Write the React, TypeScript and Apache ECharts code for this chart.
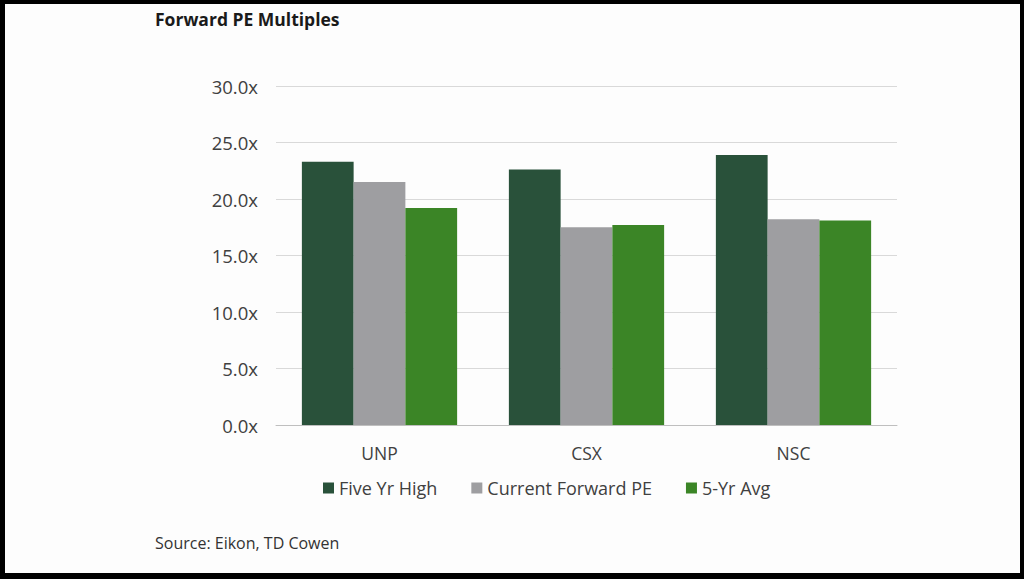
import React, { useEffect, useRef } from "react";
import * as echarts from "echarts";

const categories = ["UNP", "CSX", "NSC"];
const fiveYrHigh = [23.3, 22.6, 23.9];
const currentForwardPE = [21.5, 17.5, 18.2];
const fiveYrAvg = [19.2, 17.7, 18.1];
const seriesNames = ["Five Yr High", "Current Forward PE", "5-Yr Avg"];
const colors = ["#29513a", "#9e9ea1", "#3b8526"];

const FONT = "'Open Sans', 'Noto Sans', sans-serif";

export default function App() {
  const ref = useRef<HTMLDivElement>(null);
  useEffect(() => {
    if (!ref.current) return;
    const chart = echarts.init(ref.current, undefined, { renderer: "svg" });
    const data = [fiveYrHigh, currentForwardPE, fiveYrAvg];
    chart.setOption({
      animation: false,
      backgroundColor: "transparent",
      textStyle: { fontFamily: FONT },
      title: [
        {
          text: "Forward PE Multiples",
          left: 150,
          top: 5,
          textStyle: { fontFamily: FONT, fontSize: 17.5, fontWeight: "bold", color: "#1a1a1a" },
        },
        {
          text: "Source: Eikon, TD Cowen",
          left: 150,
          top: 530,
          textStyle: { fontFamily: FONT, fontSize: 16, fontWeight: "normal", color: "#333333" },
        },
      ],
      legend: {
        left: 318,
        top: 474,
        itemWidth: 11,
        itemHeight: 11,
        itemGap: 34,
        icon: "rect",
        textStyle: { fontFamily: FONT, fontSize: 18, color: "#404040" },
        data: seriesNames,
      },
      grid: { left: 276, right: 127, top: 86, bottom: 154, containLabel: false },
      xAxis: {
        type: "category",
        data: categories,
        axisLine: { show: true, lineStyle: { color: "#bfbfbf", width: 1 } },
        axisTick: { show: false },
        axisLabel: { margin: 19, fontSize: 17.5, color: "#404040", fontFamily: FONT },
      },
      yAxis: {
        type: "value",
        min: 0,
        max: 30,
        interval: 5,
        axisLine: { show: false },
        axisTick: { show: false },
        splitLine: { lineStyle: { color: "#d9d9d9", width: 1 } },
        axisLabel: {
          margin: 18,
          fontSize: 18.5,
          color: "#404040",
          fontFamily: FONT,
          formatter: (v: number) => v.toFixed(1) + "x",
        },
      },
      series: seriesNames.map((name, i) => ({
        name,
        type: "bar",
        data: data[i],
        barGap: "0%",
        barCategoryGap: "25%",
        itemStyle: { color: colors[i] },
      })),
    });
    return () => chart.dispose();
  }, []);
  return (
    <div style={{ position: "fixed", left: 0, top: 0, width: 1024, height: 579, background: "#000" }}>
      <div style={{ position: "absolute", left: 5, top: 4, width: 1015, height: 569, background: "#fdfdfd" }} />
      <div ref={ref} style={{ position: "absolute", left: 0, top: 0, width: 1024, height: 579 }} />
    </div>
  );
}
